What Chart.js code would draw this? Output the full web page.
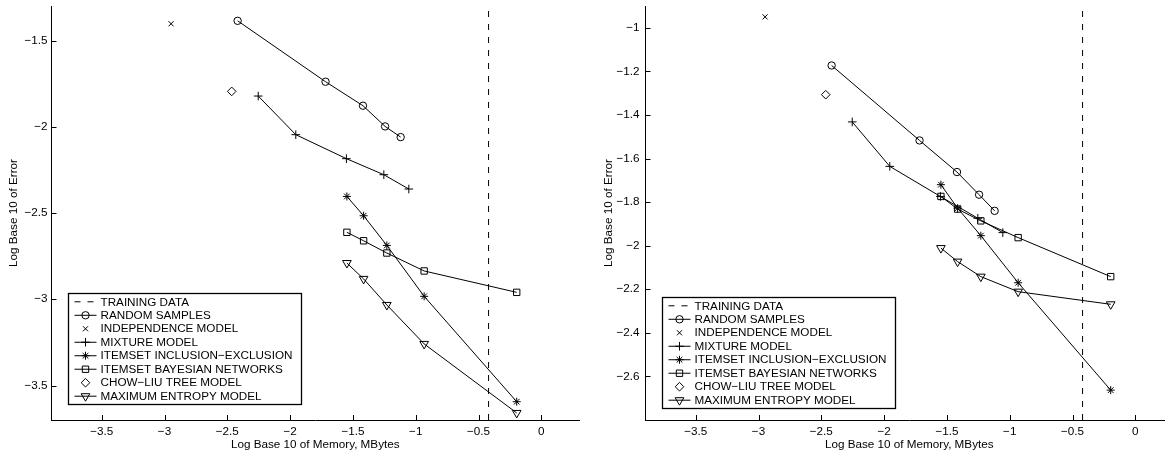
<!DOCTYPE html>
<html><head><meta charset="utf-8">
<script src="https://cdn.jsdelivr.net/npm/chart.js@4.4.1/dist/chart.umd.min.js"></script>
<style>
html,body{margin:0;padding:0;background:#fff;overflow:hidden;width:1165px;height:456px;}
#wrap{position:relative;width:1165px;height:456px;overflow:hidden;background:#fff;}
.c{position:absolute;top:0;width:585px;height:456px;}
</style></head>
<body><div id="wrap">
<div class="c" style="left:0px"><canvas id="leftChart" width="585" height="456"></canvas></div>
<div class="c" style="left:594px"><canvas id="rightChart" width="585" height="456"></canvas></div>
</div>
<script>
// ---------- data ----------
const LEGEND_LABELS = ['TRAINING DATA','RANDOM SAMPLES','INDEPENDENCE MODEL','MIXTURE MODEL',
  'ITEMSET INCLUSION\u2212EXCLUSION','ITEMSET BAYESIAN NETWORKS','CHOW\u2212LIU TREE MODEL','MAXIMUM ENTROPY MODEL'];
const X_TITLE = 'Log Base 10 of Memory, MBytes';
const Y_TITLE = 'Log Base 10 of Error';

const X_RANGE = [-3.9, 0.3];
const X_TICKS = [-3.5, -3, -2.5, -2, -1.5, -1, -0.5, 0];
const X_TICK_LABELS = ['\u22123.5','\u22123','\u22122.5','\u22122','\u22121.5','\u22121','\u22120.5','0'];

const LEFT_Y_RANGE = [-3.7, -1.3];
const LEFT_Y_TICKS = [-3.5, -3, -2.5, -2, -1.5];
const LEFT_Y_TICK_LABELS = ['\u22123.5','\u22123','\u22122.5','\u22122','\u22121.5'];

const RIGHT_Y_RANGE = [-2.8, -0.9];
const RIGHT_Y_TICKS = [-2.6, -2.4, -2.2, -2, -1.8, -1.6, -1.4, -1.2, -1];
const RIGHT_Y_TICK_LABELS = ['\u22122.6','\u22122.4','\u22122.2','\u22122','\u22121.8','\u22121.6','\u22121.4','\u22121.2','\u22121'];

const TRAINING_X = -0.42;
const RANDOM_X = [-2.418, -1.718, -1.42, -1.244, -1.12];
const INDEPENDENCE_X = [-2.948];
const MIXTURE_X = [-2.254, -1.955, -1.552, -1.254, -1.055];
const ITEMSET_X = [-1.548, -1.415, -1.23, -0.933, -0.196];
const CHOWLIU_X = [-2.465];

const LEFT_RANDOM_Y = [-1.386, -1.739, -1.878, -1.998, -2.06];
const LEFT_INDEPENDENCE_Y = [-1.403];
const LEFT_MIXTURE_Y = [-1.822, -2.046, -2.185, -2.278, -2.361];
const LEFT_INCLEXCL_Y = [-2.404, -2.516, -2.688, -2.983, -3.594];
const LEFT_BAYESNET_Y = [-2.612, -2.661, -2.732, -2.836, -2.96];
const LEFT_CHOWLIU_Y = [-1.795];
const LEFT_MAXENT_Y = [-2.79, -2.882, -3.033, -3.259, -3.659];

const RIGHT_RANDOM_Y = [-1.173, -1.517, -1.662, -1.766, -1.84];
const RIGHT_INDEPENDENCE_Y = [-0.95];
const RIGHT_MIXTURE_Y = [-1.432, -1.636, -1.774, -1.874, -1.94];
const RIGHT_INCLEXCL_Y = [-1.72, -1.828, -1.954, -2.17, -2.663];
const RIGHT_BAYESNET_Y = [-1.774, -1.832, -1.886, -1.963, -2.142];
const RIGHT_CHOWLIU_Y = [-1.307];
const RIGHT_MAXENT_Y = [-2.011, -2.073, -2.142, -2.211, -2.269];

// ---------- styles ----------
const FONT_FAMILY = "'Liberation Sans', Arial, Helvetica, sans-serif";
const FONT_SIZE = 11.7;
const STYLES = [
  {dash:[6,7], line:true, point:false},
  {line:true, point:'circle', r:3.7, rot:0},
  {line:false, point:'crossRot', r:3.6, rot:0},
  {line:true, point:'cross', r:4.3, rot:0},
  {line:true, point:'star', r:4, rot:0},
  {line:true, point:'rect', r:4.5, rot:0},
  {line:false, point:'rectRot', r:4.3, rot:0},
  {line:true, point:'triangle', r:5, rot:180}
];

function pts(xs, ys){ return xs.map((x,i)=>({x:x, y:ys[i]})); }

function buildDatasets(yRange, series){
  const all = [ [{x:TRAINING_X, y:yRange[0]},{x:TRAINING_X, y:yRange[1]}] ].concat(series);
  return all.map((data, i) => {
    const s = STYLES[i];
    return {
      label: LEGEND_LABELS[i],
      data: data,
      showLine: s.line,
      borderColor: '#000',
      borderWidth: 1,
      borderDash: s.dash || [],
      backgroundColor: 'rgba(0,0,0,0)',
      pointStyle: s.point || 'circle',
      pointRadius: s.point ? s.r : 0,
      pointHoverRadius: s.point ? s.r : 0,
      pointRotation: s.rot || 0,
      pointBorderColor: '#000',
      pointBackgroundColor: 'rgba(0,0,0,0)',
      pointBorderWidth: 1,
      fill: false,
      tension: 0
    };
  });
}

function drawMarker(ctx, style, r, rot, x, y){
  if (Chart.helpers && Chart.helpers.drawPoint){
    ctx.fillStyle = 'rgba(0,0,0,0)';
    ctx.strokeStyle = '#000';
    ctx.lineWidth = 1;
    Chart.helpers.drawPoint(ctx, {pointStyle: style, radius: r, rotation: rot, borderWidth: 1}, x, y);
  }
}

const matlabPlugin = {
  id: 'matlab',
  afterDraw(chart, args, opts){
    const ctx = chart.ctx, ca = chart.chartArea;
    ctx.save();
    // inward ticks
    ctx.strokeStyle = '#000';
    ctx.lineWidth = 1;
    ctx.setLineDash([]);
    const xs = chart.scales.x, ys = chart.scales.y;
    ctx.beginPath();
    xs.ticks.forEach(t => {
      const px = Math.round(xs.getPixelForValue(t.value)) + 0.5;
      ctx.moveTo(px, ca.bottom); ctx.lineTo(px, ca.bottom - 5);
    });
    ys.ticks.forEach(t => {
      const py = Math.round(ys.getPixelForValue(t.value)) + 0.5;
      ctx.moveTo(ca.left, py); ctx.lineTo(ca.left + 5, py);
    });
    ctx.stroke();
    // legend box
    const bx = Math.round(ca.left + opts.dx) + 0.5;
    const by = Math.round(ca.bottom - opts.dy) + 0.5;
    const w = opts.w, h = opts.h;
    ctx.fillStyle = '#fff';
    ctx.fillRect(bx, by, w, h);
    ctx.lineWidth = 1.3;
    ctx.strokeRect(bx, by, w, h);
    const dsets = chart.data.datasets;
    const pad = 8.3;
    const step = (h - 2*pad) / (dsets.length - 1);
    ctx.font = FONT_SIZE + 'px ' + FONT_FAMILY;
    ctx.textBaseline = 'middle';
    ctx.textAlign = 'left';
    dsets.forEach((ds, i) => {
      const s = STYLES[i];
      const y = by + pad + i*step;
      if (s.line){
        ctx.beginPath();
        ctx.setLineDash(s.dash || []);
        ctx.lineWidth = 1;
        ctx.strokeStyle = '#000';
        ctx.moveTo(bx + 6, y); ctx.lineTo(bx + 28, y);
        ctx.stroke();
        ctx.setLineDash([]);
      }
      if (s.point) drawMarker(ctx, s.point, s.r, s.rot, bx + 17, y);
      ctx.fillStyle = '#000';
      ctx.fillText(ds.label, bx + 32, y + 0.5);
    });
    ctx.restore();
  }
};

function zeroPad(sc){ sc.paddingLeft = 0; sc.paddingRight = 0; sc.paddingTop = 0; sc.paddingBottom = 0; }

function makeChart(id, yRange, yTicks, yTickLabels, series, legendOpts, yTitlePad, yTickPad){
  return new Chart(document.getElementById(id), {
    type: 'scatter',
    data: { datasets: buildDatasets(yRange, series) },
    plugins: [matlabPlugin],
    options: {
      responsive: false,
      animation: false,
      devicePixelRatio: 1,
      events: [],
      layout: { padding: { top: 6, right: 0, bottom: 0, left: 0 } },
      plugins: {
        legend: { display: false },
        tooltip: { enabled: false },
        matlab: legendOpts
      },
      font: { family: FONT_FAMILY, size: FONT_SIZE },
      scales: {
        x: {
          type: 'linear',
          min: X_RANGE[0], max: X_RANGE[1],
          afterBuildTicks: (sc) => { sc.ticks = X_TICKS.map(v => ({value: v})); },
          afterFit: (sc) => { sc.height = 36; zeroPad(sc); },
          grid: { display: false, drawTicks: false, tickLength: 0 },
          border: { display: true, color: '#000', width: 1 },
          ticks: {
            color: '#000', padding: 5, maxRotation: 0, autoSkip: false,
            font: { family: FONT_FAMILY, size: FONT_SIZE },
            callback: (v, i) => X_TICK_LABELS[i]
          },
          title: { display: true, text: X_TITLE, color: '#000',
            font: { family: FONT_FAMILY, size: FONT_SIZE }, padding: { top: 4, bottom: 4 } }
        },
        y: {
          type: 'linear',
          min: yRange[0], max: yRange[1],
          afterBuildTicks: (sc) => { sc.ticks = yTicks.map(v => ({value: v})); },
          afterFit: (sc) => { sc.width = 51.5; zeroPad(sc); },
          grid: { display: false, drawTicks: false, tickLength: 0 },
          border: { display: true, color: '#000', width: 1 },
          ticks: {
            color: '#000', padding: yTickPad, autoSkip: false,
            font: { family: FONT_FAMILY, size: FONT_SIZE },
            callback: (v, i) => yTickLabels[i]
          },
          title: { display: true, text: Y_TITLE, color: '#000',
            font: { family: FONT_FAMILY, size: FONT_SIZE }, padding: { top: yTitlePad, bottom: 4 } }
        }
      }
    }
  });
}

makeChart('leftChart', LEFT_Y_RANGE, LEFT_Y_TICKS, LEFT_Y_TICK_LABELS, [
  pts(RANDOM_X, LEFT_RANDOM_Y),
  pts(INDEPENDENCE_X, LEFT_INDEPENDENCE_Y),
  pts(MIXTURE_X, LEFT_MIXTURE_Y),
  pts(ITEMSET_X, LEFT_INCLEXCL_Y),
  pts(ITEMSET_X, LEFT_BAYESNET_Y),
  pts(CHOWLIU_X, LEFT_CHOWLIU_Y),
  pts(ITEMSET_X, LEFT_MAXENT_Y)
], {dx: 16.5, dy: 126.7, w: 233, h: 111}, 7, 4);

makeChart('rightChart', RIGHT_Y_RANGE, RIGHT_Y_TICKS, RIGHT_Y_TICK_LABELS, [
  pts(RANDOM_X, RIGHT_RANDOM_Y),
  pts(INDEPENDENCE_X, RIGHT_INDEPENDENCE_Y),
  pts(MIXTURE_X, RIGHT_MIXTURE_Y),
  pts(ITEMSET_X, RIGHT_INCLEXCL_Y),
  pts(ITEMSET_X, RIGHT_BAYESNET_Y),
  pts(CHOWLIU_X, RIGHT_CHOWLIU_Y),
  pts(ITEMSET_X, RIGHT_MAXENT_Y)
], {dx: 16.5, dy: 123.3, w: 233, h: 111}, 8, 6);
</script>
</body></html>
